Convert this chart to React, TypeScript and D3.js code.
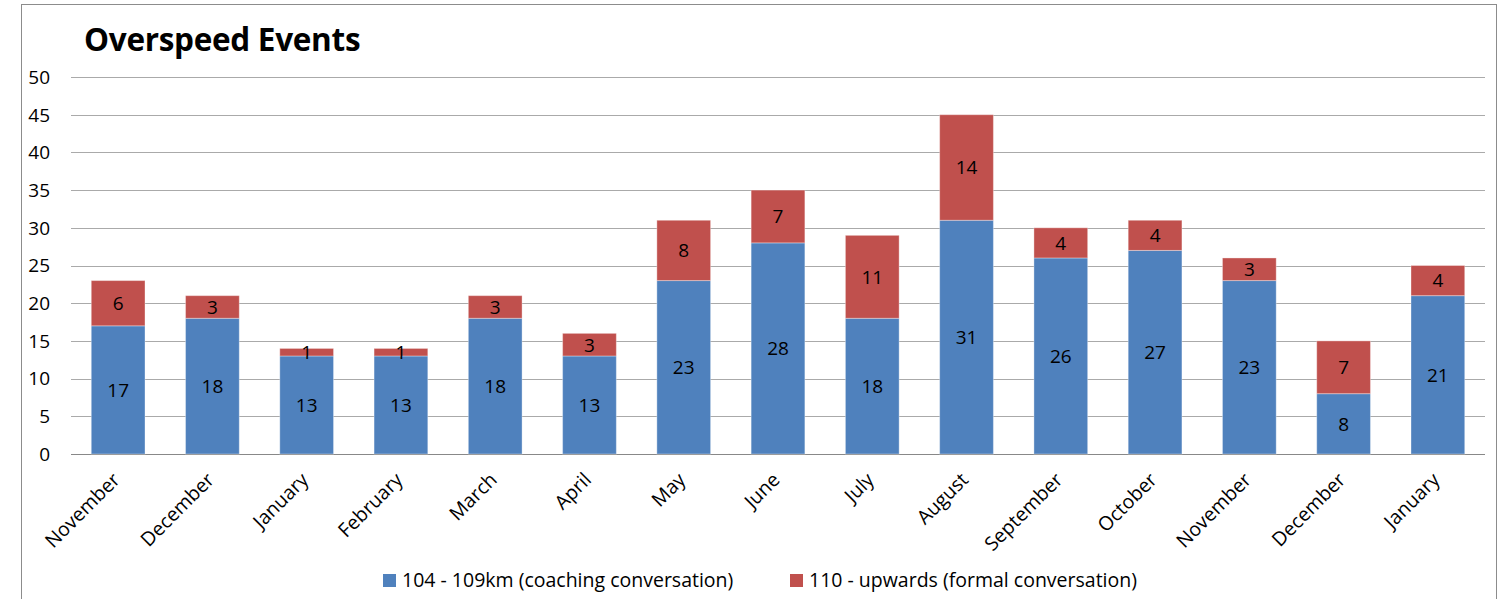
import { useEffect, useRef } from "react";
import * as d3 from "d3";

const months = ["November", "December", "January", "February", "March", "April", "May", "June", "July", "August", "September", "October", "November", "December", "January"];
const coaching = [17, 18, 13, 13, 18, 13, 23, 28, 18, 31, 26, 27, 23, 8, 21];
const formal = [6, 3, 1, 1, 3, 3, 8, 7, 11, 14, 4, 4, 3, 7, 4];
const yTicks = [0, 5, 10, 15, 20, 25, 30, 35, 40, 45, 50];
const seriesNames = ["104 - 109km (coaching conversation)", "110 - upwards (formal conversation)"];

export default function App() {
  const svgRef = useRef<SVGSVGElement>(null);

  useEffect(() => {
    const width = 1509;
    const height = 599;
    const left = 71;
    const right = 1485;
    const top = 77;
    const bottom = 454;
    const font = "'Open Sans', Lato, sans-serif";
    const colors = ["#4F81BD", "#C0504D"];

    const svg = d3.select(svgRef.current)
      .attr("width", width)
      .attr("height", height)
      .style("font-family", font);
    svg.selectAll("*").remove();

    // outer frame
    svg.append("rect")
      .attr("x", 21.5).attr("y", 4.5)
      .attr("width", 1475).attr("height", 620)
      .attr("fill", "white")
      .attr("stroke", "#8c8c8c");

    const x = d3.scaleBand<number>()
      .domain(d3.range(months.length))
      .range([left, right])
      .paddingInner(0.43)
      .paddingOuter(0.215);

    const y = d3.scaleLinear().domain([0, 50]).range([bottom, top]);

    svg.append("text")
      .attr("x", 84).attr("y", 51)
      .attr("font-size", 31.5).attr("font-weight", "bold")
      .attr("letter-spacing", -0.3)
      .text("Overspeed Events");

    // grid
    svg.append("g").selectAll("line")
      .data(yTicks)
      .enter().append("line")
      .attr("x1", left).attr("x2", right)
      .attr("y1", d => Math.round(y(d)) + 0.5)
      .attr("y2", d => Math.round(y(d)) + 0.5)
      .attr("stroke", d => d === 0 ? "#888" : "#aaa")
      .attr("stroke-width", 1);

    svg.append("g").selectAll("text")
      .data(yTicks)
      .enter().append("text")
      .attr("x", 50)
      .attr("y", d => y(d))
      .attr("dy", "0.36em")
      .attr("text-anchor", "end")
      .attr("font-size", 19)
      .text(d => d);

    const stacked = months.map((m, i) => [
      { i, s: 0, y0: 0, y1: coaching[i], v: coaching[i] },
      { i, s: 1, y0: coaching[i], y1: coaching[i] + formal[i], v: formal[i] },
    ]).flat();

    const bars = svg.append("g");
    bars.selectAll("rect")
      .data(stacked)
      .enter().append("rect")
      .attr("x", d => x(d.i)!)
      .attr("width", x.bandwidth())
      .attr("y", d => y(d.y1))
      .attr("height", d => y(d.y0) - y(d.y1))
      .attr("fill", d => colors[d.s])
      .attr("stroke", "rgba(255,255,255,0.35)")
      .attr("stroke-width", 1);

    bars.selectAll("text")
      .data(stacked)
      .enter().append("text")
      .attr("x", d => x(d.i)! + x.bandwidth() / 2)
      .attr("y", d => y((d.y0 + d.y1) / 2))
      .attr("dy", "0.36em")
      .attr("text-anchor", "middle")
      .attr("font-size", 19)
      .text(d => d.v);

    // category labels
    svg.append("g").selectAll("text")
      .data(months)
      .enter().append("text")
      .attr("transform", (d, i) => `translate(${x(i)! + x.bandwidth() / 2 + 3},${481}) rotate(-45)`)
      .attr("text-anchor", "end")
      .attr("font-size", 19.5)
      .text(d => d);

    // legend
    const legend = svg.append("g");
    const lx = [383, 790];
    seriesNames.forEach((name, k) => {
      legend.append("rect")
        .attr("x", lx[k]).attr("y", 574)
        .attr("width", 13).attr("height", 13)
        .attr("fill", colors[k]);
      legend.append("text")
        .attr("x", lx[k] + 19).attr("y", 587)
        .attr("font-size", 19.5)
        .text(name);
    });
  }, []);

  return (
    <div style={{ position: "absolute", left: 0, top: 0 }}>
      <svg ref={svgRef}></svg>
    </div>
  );
}
